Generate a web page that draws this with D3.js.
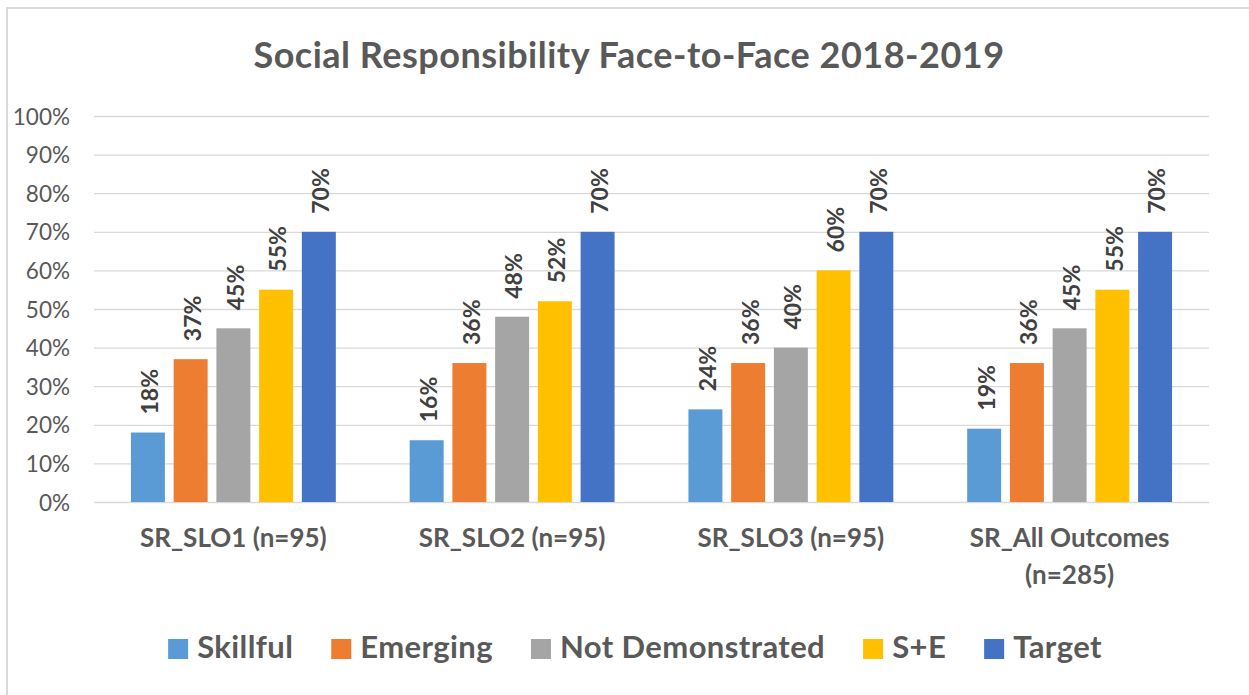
<!DOCTYPE html>
<html>
<head>
<meta charset="utf-8">
<script src="https://cdn.jsdelivr.net/npm/d3@7"></script>
<style>
  html, body { margin: 0; padding: 0; background: #fff; }
  svg { display: block; font-family: Lato, "Open Sans", sans-serif; }
</style>
</head>
<body>
<svg id="chart" width="1249" height="695"></svg>
<script>
const title = "Social Responsibility Face-to-Face 2018-2019";
const categories = [["SR_SLO1 (n=95)"], ["SR_SLO2 (n=95)"], ["SR_SLO3 (n=95)"], ["SR_All Outcomes", "(n=285)"]];
const seriesNames = ["Skillful", "Emerging", "Not Demonstrated", "S+E", "Target"];
const seriesColors = ["#5B9BD5", "#ED7D31", "#A5A5A5", "#FFC000", "#4472C4"];
const skillful = [18, 16, 24, 19];
const emerging = [37, 36, 36, 36];
const notDemonstrated = [45, 48, 40, 45];
const sPlusE = [55, 52, 60, 55];
const target = [70, 70, 70, 70];
const yTicks = [0, 10, 20, 30, 40, 50, 60, 70, 80, 90, 100];

const seriesValues = [skillful, emerging, notDemonstrated, sPlusE, target];

const svg = d3.select("#chart");
const plot = { left: 94, right: 1209, top: 116, bottom: 502 };

// chart border
svg.append("rect").attr("x", 7).attr("y", 8).attr("width", 1270).attr("height", 720)
  .attr("fill", "#fff").attr("stroke", "#D9D9D9").attr("stroke-width", 2);

// title
svg.append("text").attr("x", 629).attr("y", 68).attr("text-anchor", "middle")
  .attr("font-size", 36).attr("font-weight", 700).attr("letter-spacing", 0.5)
  .attr("fill", "#595959").text(title);

const catKeys = categories.map(c => c.join(" "));
const x0 = d3.scaleBand().domain(catKeys).range([plot.left, plot.right])
  .paddingInner(0.265).paddingOuter(0.1325);
const x1 = d3.scaleBand().domain(seriesNames).range([0, x0.bandwidth()])
  .paddingInner(0.205).paddingOuter(0);
const y = d3.scaleLinear().domain([0, 100]).range([plot.bottom, plot.top]);

// gridlines + y axis
const yAxis = d3.axisLeft(y).tickValues(yTicks).tickFormat(d => d + "%")
  .tickSize(-(plot.right - plot.left)).tickPadding(24);
const gy = svg.append("g").attr("transform", `translate(${plot.left},0)`).call(yAxis);
gy.select(".domain").remove();
gy.selectAll(".tick line").attr("stroke", "#D9D9D9").attr("stroke-width", 1.3);
gy.selectAll(".tick text").attr("fill", "#595959").attr("font-size", 22.5)
  .attr("font-family", "Lato, sans-serif").attr("dy", "0.36em");

// bars
const groups = svg.append("g").selectAll("g").data(catKeys).join("g")
  .attr("transform", d => `translate(${x0(d)},0)`);

groups.each(function(cat, ci) {
  const g = d3.select(this);
  const rows = seriesNames.map((s, si) => ({ s, si, v: seriesValues[si][ci] }));
  g.selectAll("rect").data(rows).join("rect")
    .attr("x", d => x1(d.s)).attr("width", x1.bandwidth())
    .attr("y", d => y(d.v)).attr("height", d => y(0) - y(d.v))
    .attr("fill", d => seriesColors[d.si]);
  g.selectAll("text").data(rows).join("text")
    .attr("transform", d => `translate(${x1(d.s) + x1.bandwidth() / 2},${y(d.v) - 18}) rotate(-90)`)
    .attr("dy", "0.45em").attr("text-anchor", "start")
    .attr("font-size", 23).attr("font-weight", 700).attr("fill", "#404040")
    .text(d => d.v + "%");
});

// x labels
const xl = svg.append("g").selectAll("text").data(categories).join("text")
  .attr("x", (d, i) => x0(catKeys[i]) + x0.bandwidth() / 2)
  .attr("y", 547).attr("text-anchor", "middle")
  .attr("font-size", 26).attr("font-weight", 700).attr("fill", "#595959");
xl.each(function(lines) {
  const t = d3.select(this);
  lines.forEach((ln, k) => {
    t.append("tspan").attr("x", t.attr("x")).attr("dy", k === 0 ? 0 : 37).text(ln);
  });
});

// legend
const legend = svg.append("g");
const items = legend.selectAll("g").data(seriesNames).join("g");
items.append("rect").attr("width", 20).attr("height", 20).attr("y", 639)
  .attr("fill", (d, i) => seriesColors[i]);
items.append("text").attr("x", 29).attr("y", 658).attr("font-size", 31)
  .attr("letter-spacing", 0.4)
  .attr("font-weight", 700).attr("fill", "#595959").text(d => d);
let widths = [];
items.each(function() { widths.push(29 + d3.select(this).select("text").node().getComputedTextLength()); });
const gapItem = 38;
const total = d3.sum(widths) + gapItem * (widths.length - 1);
let cx = 635 - total / 2;
items.attr("transform", (d, i) => {
  const tx = cx; cx += widths[i] + gapItem; return `translate(${tx},0)`;
});
</script>
</body>
</html>
